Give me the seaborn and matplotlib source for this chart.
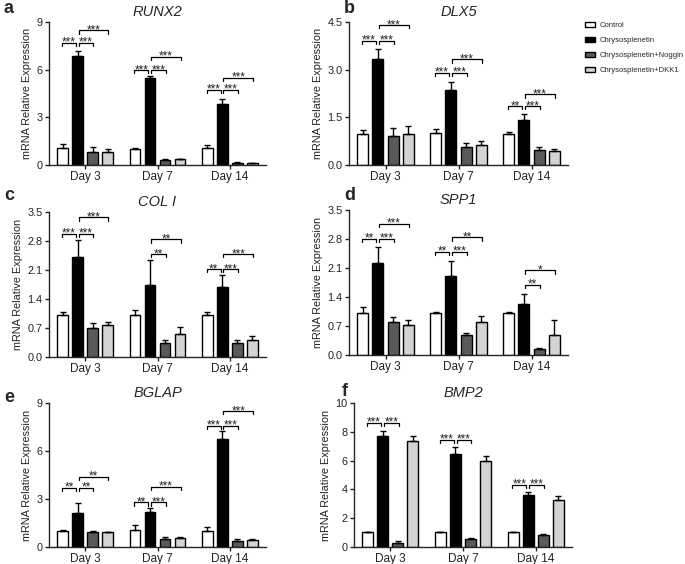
import numpy as np
import pandas as pd
import matplotlib.pyplot as plt
import seaborn as sns
from matplotlib.patches import Patch

sns.set_style("ticks")
plt.rcParams["font.family"] = ["Liberation Sans", "DejaVu Sans"]

#------------------------------ data ----------------------
days = ["Day 3", "Day 7", "Day 14"]
groups = ["Control", "Chrysosplenetin", "Chrysosplenetin+Noggin", "Chrysosplenetin+DKK1"]
colors = ["#ffffff", "#000000", "#5a5a5a", "#d3d3d3"]

# rows = groups, columns = days
runx2_mean = [[1.05, 1.00, 1.05], [6.86, 5.48, 3.81], [0.84, 0.31, 0.13], [0.80, 0.36, 0.10]]
runx2_sem = [[0.30, 0.10, 0.18], [0.30, 0.15, 0.35], [0.27, 0.05, 0.05], [0.20, 0.04, 0.02]]
dlx5_mean = [[0.99, 1.01, 0.99], [3.35, 2.37, 1.41], [0.91, 0.58, 0.47], [0.97, 0.64, 0.44]]
dlx5_sem = [[0.10, 0.12, 0.05], [0.30, 0.25, 0.19], [0.24, 0.12, 0.09], [0.25, 0.10, 0.07]]
col1_mean = [[1.02, 1.02, 1.02], [2.41, 1.75, 1.69], [0.69, 0.35, 0.35], [0.78, 0.55, 0.42]]
col1_sem = [[0.07, 0.12, 0.07], [0.41, 0.58, 0.30], [0.12, 0.06, 0.05], [0.06, 0.17, 0.08]]
spp1_mean = [[1.01, 1.01, 1.01], [2.23, 1.90, 1.23], [0.80, 0.48, 0.14], [0.72, 0.79, 0.49]]
spp1_sem = [[0.14, 0.02, 0.04], [0.38, 0.38, 0.24], [0.12, 0.06, 0.02], [0.13, 0.16, 0.35]]
bglap_mean = [[1.00, 1.04, 1.00], [2.13, 2.19, 6.75], [0.92, 0.50, 0.40], [0.92, 0.54, 0.45]]
bglap_sem = [[0.08, 0.35, 0.23], [0.62, 0.25, 0.48], [0.10, 0.12, 0.10], [0.04, 0.06, 0.03]]
bmp2_mean = [[1.02, 1.02, 1.02], [7.73, 6.46, 3.61], [0.30, 0.58, 0.86], [7.36, 6.00, 3.24]]
bmp2_sem = [[0.04, 0.02, 0.02], [0.33, 0.48, 0.23], [0.09, 0.03, 0.02], [0.35, 0.30, 0.28]]

# significance brackets: (day index, bar a, bar b, height, stars)
runx2_sig = [(0, 0, 1, 7.68, "***"), (0, 1, 2, 7.68, "***"), (0, 1, 3, 8.47, "***"),
             (1, 0, 1, 5.96, "***"), (1, 1, 2, 5.96, "***"), (1, 1, 3, 6.80, "***"),
             (2, 0, 1, 4.75, "***"), (2, 1, 2, 4.75, "***"), (2, 1, 3, 5.50, "***")]
dlx5_sig = [(0, 0, 1, 3.90, "***"), (0, 1, 2, 3.90, "***"), (0, 1, 3, 4.40, "***"),
            (1, 0, 1, 2.90, "***"), (1, 1, 2, 2.90, "***"), (1, 1, 3, 3.32, "***"),
            (2, 0, 1, 1.85, "**"), (2, 1, 2, 1.85, "***"), (2, 1, 3, 2.22, "***")]
col1_sig = [(0, 0, 1, 2.98, "***"), (0, 1, 2, 2.98, "***"), (0, 1, 3, 3.37, "***"),
            (1, 1, 2, 2.48, "**"), (1, 1, 3, 2.84, "**"),
            (2, 0, 1, 2.12, "**"), (2, 1, 2, 2.12, "***"), (2, 1, 3, 2.48, "***")]
spp1_sig = [(0, 0, 1, 2.80, "**"), (0, 1, 2, 2.80, "***"), (0, 1, 3, 3.16, "***"),
            (1, 0, 1, 2.49, "**"), (1, 1, 2, 2.49, "***"), (1, 1, 3, 2.84, "**"),
            (2, 1, 2, 1.70, "**"), (2, 1, 3, 2.04, "*")]
bglap_sig = [(0, 0, 1, 3.69, "**"), (0, 1, 2, 3.69, "**"), (0, 1, 3, 4.37, "**"),
             (1, 0, 1, 2.79, "**"), (1, 1, 2, 2.79, "***"), (1, 1, 3, 3.75, "***"),
             (2, 0, 1, 7.58, "***"), (2, 1, 2, 7.58, "***"), (2, 1, 3, 8.48, "***")]
bmp2_sig = [(0, 0, 1, 8.61, "***"), (0, 1, 2, 8.61, "***"),
            (1, 0, 1, 7.45, "***"), (1, 1, 2, 7.45, "***"),
            (2, 0, 1, 4.33, "***"), (2, 1, 2, 4.33, "***")]

runx2_ticks = [0, 3, 6, 9]
dlx5_ticks = [0.0, 1.5, 3.0, 4.5]
col1_ticks = [0.0, 0.7, 1.4, 2.1, 2.8, 3.5]
spp1_ticks = [0.0, 0.7, 1.4, 2.1, 2.8, 3.5]
bglap_ticks = [0, 3, 6, 9]
bmp2_ticks = [0, 2, 4, 6, 8, 10]

#------------------------------ layout ----------------------
W, H = 685, 564
def rect(left, top, right, bottom):
    return [left / W, 1 - bottom / H, (right - left) / W, (bottom - top) / H]

panels = [
    ("a", "RUNX2", runx2_mean, runx2_sem, runx2_sig, runx2_ticks, "{:.0f}", rect(49, 22, 266, 165), (4, 13)),
    ("b", "DLX5", dlx5_mean, dlx5_sem, dlx5_sig, dlx5_ticks, "{:.1f}", rect(349, 22, 568, 165), (344, 13)),
    ("c", "COL I", col1_mean, col1_sem, col1_sig, col1_ticks, "{:.1f}", rect(49, 212, 266, 357), (4, 200)),
    ("d", "SPP1", spp1_mean, spp1_sem, spp1_sig, spp1_ticks, "{:.1f}", rect(349, 210, 568, 355), (344, 200)),
    ("e", "BGLAP", bglap_mean, bglap_sem, bglap_sig, bglap_ticks, "{:.0f}", rect(49, 403, 266, 547), (4, 402)),
    ("f", "BMP2", bmp2_mean, bmp2_sem, bmp2_sig, bmp2_ticks, "{:.0f}", rect(354, 403, 572, 547), (342, 396)),
]

WIDTH = 0.83
SLOT = WIDTH / len(groups)

fig = plt.figure(figsize=(W / 100, H / 100), dpi=100)

for letter, title, mean, sem, sig, ticks, fmt, box, lpos in panels:
    ax = fig.add_axes(box)
    df = pd.DataFrame([
        {"day": d, "group": g, "value": mean[gi][di], "sem": sem[gi][di]}
        for gi, g in enumerate(groups) for di, d in enumerate(days)
    ])
    sns.barplot(data=df, x="day", y="value", hue="group", order=days, hue_order=groups,
                palette=colors, width=WIDTH, gap=0.27, edgecolor="black", linewidth=1,
                errorbar=None, legend=False, saturation=1, ax=ax)

    # upper-only error bars
    xs = [days.index(d) + (groups.index(g) - 1.5) * SLOT for d, g in zip(df["day"], df["group"])]
    ax.errorbar(xs, df["value"], yerr=[np.zeros(len(df)), df["sem"]], fmt="none",
                ecolor="black", elinewidth=1, capsize=2.5, capthick=1, zorder=3)

    ymax = ticks[-1]
    drop = 0.022 * ymax
    for di, a, b, y, stars in sig:
        x1 = di + (a - 1.5) * SLOT - 0.01
        x2 = di + (b - 1.5) * SLOT - 0.025
        if a == 1:
            x1 = di + (a - 1.5) * SLOT + 0.015
            x2 = di + (b - 1.5) * SLOT + 0.01
        ax.plot([x1, x1, x2, x2], [y - drop, y, y, y - drop], color="black", lw=0.9, zorder=4)
        ax.annotate(stars, xy=((x1 + x2) / 2, y), xytext=(0, -2.0), textcoords="offset points",
                    ha="center", va="baseline", fontsize=8.5, color="#222222")

    ax.set_xlim(-0.5, 2.5)
    ax.set_ylim(0, ymax)
    ax.set_yticks(ticks)
    ax.set_yticklabels([fmt.format(t) for t in ticks])
    ax.set_xlabel("")
    ax.set_ylabel("mRNA Relative Expression", fontsize=7.8, color="#222222", labelpad=3)
    ax.set_title(title, fontsize=10.5, style="italic", pad=4)
    ax.tick_params(axis="y", labelsize=7.8, length=3, width=1, pad=1.5, colors="#222222")
    ax.tick_params(axis="x", labelsize=8.5, length=3, width=1, pad=1.5, colors="#222222")
    sns.despine(ax=ax)
    for s in ["left", "bottom"]:
        ax.spines[s].set_linewidth(1)
    fig.text(lpos[0] / W, 1 - lpos[1] / H, letter, fontsize=13, fontweight="bold", va="baseline")

handles = [Patch(facecolor=c, edgecolor="black", linewidth=1) for c in colors]
fig.legend(handles, groups, loc="upper left", bbox_to_anchor=(585 / W, 1 - 22 / H),
           frameon=False, fontsize=5.5, handlelength=1.3, handleheight=0.65,
           handletextpad=0.6, labelspacing=1.0, borderpad=0, borderaxespad=0)

fig.savefig("out.png", dpi=100)
